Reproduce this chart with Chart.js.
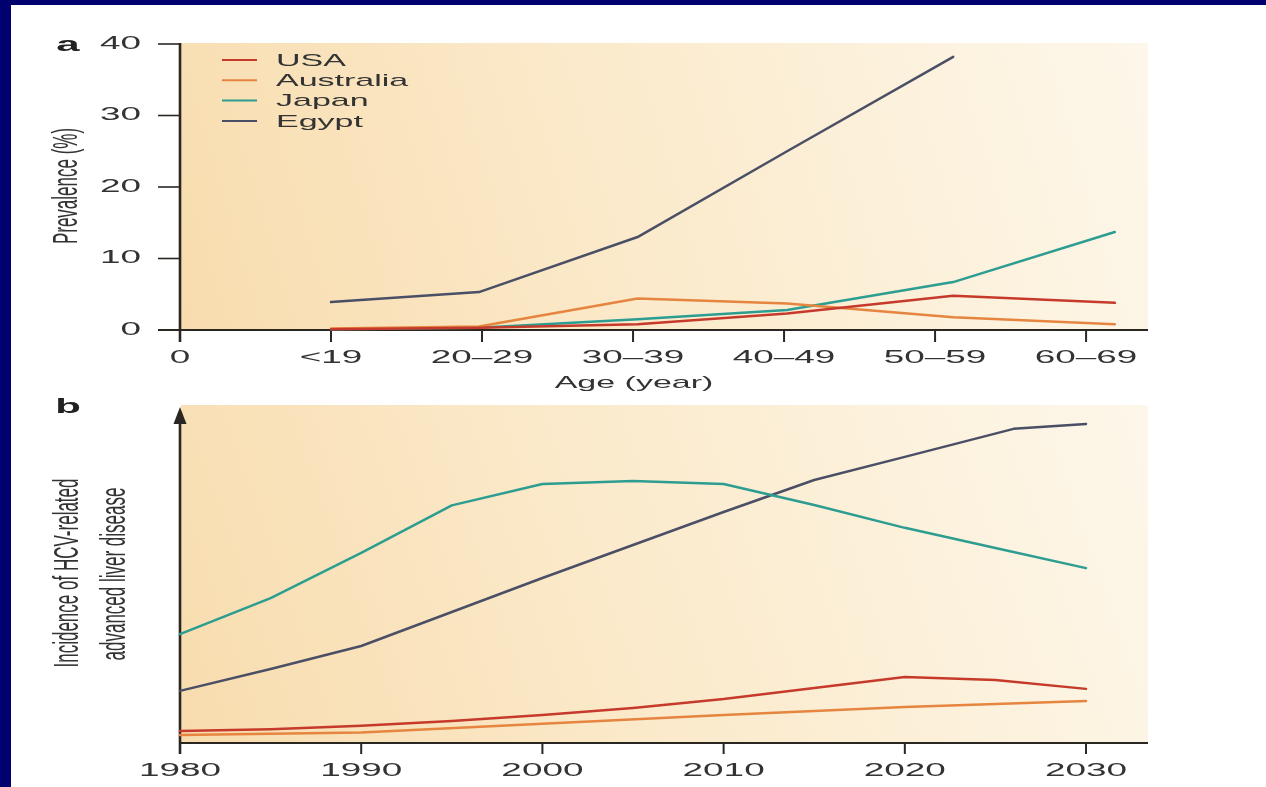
<!DOCTYPE html>
<html>
<head>
<meta charset="utf-8">
<title>HCV prevalence and incidence</title>
<script src="https://cdn.jsdelivr.net/npm/chart.js@4/dist/chart.umd.min.js"></script>
<style>
  html, body { margin: 0; padding: 0; width: 1266px; height: 787px; overflow: hidden; background: #00006e; }
  #sheet { position: absolute; left: 11px; top: 5px; right: 0; bottom: 0; background: #ffffff; }
  canvas { position: absolute; left: 0; }
  #chartA { top: 0; }
  #chartB { top: 395px; }
</style>
</head>
<body>
<div id="sheet"></div>
<canvas id="chartA" width="1266" height="395"></canvas>
<canvas id="chartB" width="1266" height="392"></canvas>
<script>
// ---- Panel a: prevalence by age group ----
const ageGroups = ['<19', '20–29', '30–39', '40–49', '50–59', '60–69'];
const ageTickLabels = ['0'].concat(ageGroups);
const agePos = [1.0, 1.98, 3.03, 4.02, 5.12, 6.19];      // plotted position of each age band
const prevTicks = [0, 10, 20, 30, 40];
const prevUSA = [0.1, 0.3, 0.8, 2.3, 4.8, 3.8];
const prevAustralia = [0.2, 0.5, 4.4, 3.7, 1.8, 0.8];
const prevJapan = [0.1, 0.3, 1.5, 2.8, 6.7, 13.7];
const prevEgypt = [3.9, 5.3, 13.0, 25.0, 38.2];

// ---- Panel b: incidence of HCV-related advanced liver disease ----
const yearTicks = [1980, 1990, 2000, 2010, 2020, 2030];
const years5 = [1980, 1985, 1990, 1995, 2000, 2005, 2010, 2015, 2020, 2025, 2030];
const incUSA = [3.6, 4.2, 5.2, 6.7, 8.5, 10.6, 13.3, 16.7, 20.0, 19.1, 16.4];
const incJapan = [33.0, 43.9, 57.6, 72.0, 78.5, 79.4, 78.5, 72.1, 65.2, 59.1, 53.0];
const yearsAustralia = [1980, 1990, 2000, 2010, 2020, 2030];
const incAustralia = [2.4, 3.2, 5.8, 8.5, 10.9, 12.7];
const yearsEgypt = [1980, 1985, 1990, 1995, 2000, 2005, 2010, 2015, 2020, 2026, 2030];
const incEgypt = [15.8, 22.4, 29.4, 39.7, 50.0, 60.0, 70.0, 79.7, 86.7, 95.2, 96.7];

const countries = ['USA', 'Australia', 'Japan', 'Egypt'];
const colors = { USA: '#c63a2b', Australia: '#e6853f', Japan: '#2c9d90', Egypt: '#4a4f66' };

const INK = '#333333';
const AXIS = '#2a2622';
const FONT = '"Liberation Sans", Arial, sans-serif';

function pairs(xs, ys) { return ys.map((y, i) => ({ x: xs[i], y: y })); }

function lineSet(label, data) {
  return {
    label: label, data: data, borderColor: colors[label], borderWidth: 2.5,
    borderJoinStyle: 'round', borderCapStyle: 'round',
    pointRadius: 0, tension: 0, fill: false, clip: 6
  };
}

// text drawn with a horizontal stretch factor (sx); rotated text stretches across its glyph height
function stretchText(ctx, str, x, y, o) {
  ctx.save();
  ctx.font = (o.bold ? 'bold ' : '') + o.size + 'px ' + FONT;
  ctx.fillStyle = o.color || INK;
  ctx.textAlign = o.align || 'center';
  ctx.textBaseline = 'middle';
  ctx.translate(x, y);
  ctx.scale(o.sx || 1, 1);
  if (o.rotate) ctx.rotate(-Math.PI / 2);
  ctx.fillText(str, 0, 0);
  ctx.restore();
}

function line(ctx, x1, y1, x2, y2, w, c) {
  ctx.save();
  ctx.strokeStyle = c || AXIS;
  ctx.lineWidth = w;
  ctx.beginPath();
  ctx.moveTo(x1, y1);
  ctx.lineTo(x2, y2);
  ctx.stroke();
  ctx.restore();
}

function paintBackground(ctx, a, top) {
  const g = ctx.createLinearGradient(a.left, a.bottom, a.right, top);
  g.addColorStop(0, '#f8dcae');
  g.addColorStop(0.45, '#fbeacb');
  g.addColorStop(1, '#fdf7ea');
  ctx.save();
  ctx.fillStyle = g;
  ctx.fillRect(a.left + 1, top, a.right - a.left - 1, a.bottom - top);
  ctx.restore();
}

const TICK_FONT = { size: 18, sx: 2.05 };

// ---- Panel a decorations ----
const panelA = {
  id: 'panelA',
  beforeDatasetsDraw(chart) {
    const ctx = chart.ctx, a = chart.chartArea;
    const xs = chart.scales.x, ys = chart.scales.y;
    paintBackground(ctx, a, a.top - 1);
    const x0 = xs.getPixelForValue(0);
    // vertical axis and its ticks
    line(ctx, x0, a.top - 1, x0, a.bottom + 12, 2.6);
    prevTicks.forEach(v => {
      const y = ys.getPixelForValue(v);
      line(ctx, x0 - 22, y, x0, y, 1.6);
    });
    // horizontal axis and its ticks
    line(ctx, x0 - 22, a.bottom, a.right, a.bottom, 1.8);
    for (let i = 1; i < ageTickLabels.length; i++) {
      const x = xs.getPixelForValue(i);
      line(ctx, x, a.bottom, x, a.bottom + 12, 2);
    }
  },
  afterDraw(chart) {
    const ctx = chart.ctx, a = chart.chartArea;
    const xs = chart.scales.x, ys = chart.scales.y;
    prevTicks.forEach(v => {
      stretchText(ctx, String(v), 141, ys.getPixelForValue(v), Object.assign({ align: 'right' }, TICK_FONT));
    });
    ageTickLabels.forEach((t, i) => {
      stretchText(ctx, t, xs.getPixelForValue(i), a.bottom + 28, TICK_FONT);
    });
    stretchText(ctx, 'Age (year)', 634, a.bottom + 53, { size: 17, sx: 2.0 });
    stretchText(ctx, 'Prevalence (%)', 67, 186, { size: 17, sx: 2.1, rotate: true });
    stretchText(ctx, 'a', 68, 45, { size: 20, sx: 2.1, bold: true, color: '#222' });
    // legend
    countries.forEach((c, i) => {
      const y = 60 + i * 20.3;
      line(ctx, 222, y, 257, y, 2, colors[c]);
      stretchText(ctx, c, 276, y + 1, { size: 17, sx: 2.0, align: 'left' });
    });
  }
};

// ---- Panel b decorations ----
const panelB = {
  id: 'panelB',
  beforeDatasetsDraw(chart) {
    const ctx = chart.ctx, a = chart.chartArea;
    const xs = chart.scales.x;
    paintBackground(ctx, a, a.top - 8);
    const x0 = xs.getPixelForValue(yearTicks[0]);
    line(ctx, x0, a.top + 8, x0, a.bottom + 11, 2.6);
    // arrow head on the vertical axis
    ctx.save();
    ctx.fillStyle = AXIS;
    ctx.beginPath();
    ctx.moveTo(x0, a.top - 6);
    ctx.lineTo(x0 - 6.5, a.top + 11);
    ctx.lineTo(x0 + 6.5, a.top + 11);
    ctx.closePath();
    ctx.fill();
    ctx.restore();
    line(ctx, x0, a.bottom, a.right, a.bottom, 1.8);
    yearTicks.slice(1).forEach(yr => {
      const x = xs.getPixelForValue(yr);
      line(ctx, x, a.bottom, x, a.bottom + 11, 2);
    });
  },
  afterDraw(chart) {
    const ctx = chart.ctx, a = chart.chartArea;
    const xs = chart.scales.x;
    yearTicks.forEach(yr => {
      stretchText(ctx, String(yr), xs.getPixelForValue(yr), a.bottom + 28, TICK_FONT);
    });
    stretchText(ctx, 'b', 68, 12, { size: 20, sx: 2.1, bold: true, color: '#222' });
    stretchText(ctx, 'Incidence of HCV-related', 68, 178, { size: 17, sx: 2.1, rotate: true });
    stretchText(ctx, 'advanced liver disease', 115, 179, { size: 17, sx: 2.1, rotate: true });
  }
};

const common = {
  responsive: false,
  animation: false,
  events: [],
  plugins: { legend: { display: false }, tooltip: { enabled: false } }
};

new Chart(document.getElementById('chartA'), {
  type: 'line',
  data: {
    datasets: [
      lineSet('USA', pairs(agePos, prevUSA)),
      lineSet('Australia', pairs(agePos, prevAustralia)),
      lineSet('Japan', pairs(agePos, prevJapan)),
      lineSet('Egypt', pairs(agePos, prevEgypt))
    ]
  },
  options: Object.assign({}, common, {
    layout: { autoPadding: false, padding: { left: 180, right: 118, top: 44, bottom: 65 } },
    scales: {
      x: { type: 'linear', display: false, min: 0, max: 6.41 },
      y: { type: 'linear', display: false, min: 0, max: 40 }
    }
  }),
  plugins: [panelA]
});

new Chart(document.getElementById('chartB'), {
  type: 'line',
  data: {
    datasets: [
      lineSet('USA', pairs(years5, incUSA)),
      lineSet('Australia', pairs(yearsAustralia, incAustralia)),
      lineSet('Japan', pairs(years5, incJapan)),
      lineSet('Egypt', pairs(yearsEgypt, incEgypt))
    ]
  },
  options: Object.assign({}, common, {
    layout: { autoPadding: false, padding: { left: 180, right: 118, top: 18, bottom: 44 } },
    scales: {
      x: { type: 'linear', display: false, min: 1980, max: 2033.42 },
      y: { type: 'linear', display: false, min: 0, max: 100 }
    }
  }),
  plugins: [panelB]
});
</script>
</body>
</html>
